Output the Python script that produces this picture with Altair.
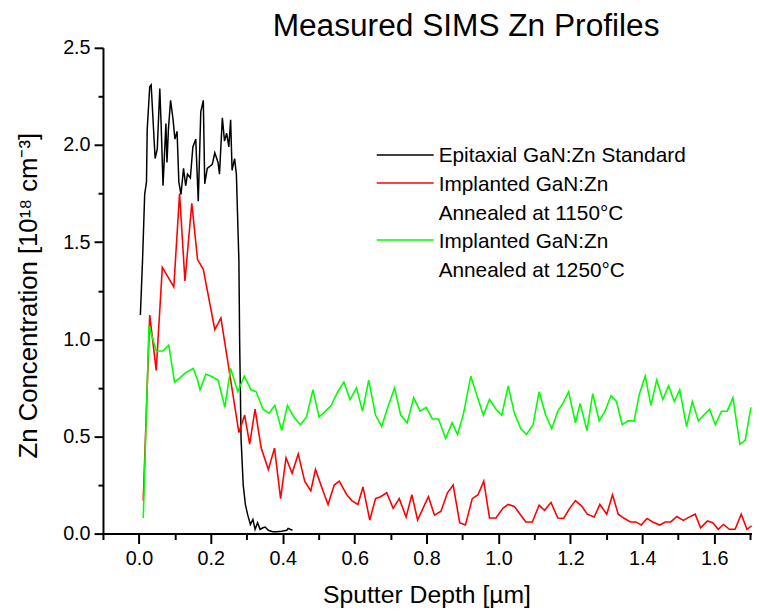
import altair as alt
import pandas as pd

# ---- data ----
black_x = [0.004, 0.010, 0.016, 0.021, 0.023, 0.030, 0.034, 0.045, 0.051, 0.058,
           0.062, 0.067, 0.075, 0.078, 0.082, 0.088, 0.095, 0.100, 0.106, 0.111,
           0.117, 0.124, 0.130, 0.135, 0.143, 0.150, 0.158, 0.165, 0.172, 0.179,
           0.183, 0.190, 0.204, 0.211, 0.220, 0.224, 0.232, 0.238, 0.244, 0.250,
           0.255, 0.259, 0.266, 0.271, 0.278, 0.280, 0.284, 0.290, 0.296, 0.302,
           0.310, 0.317, 0.323, 0.330, 0.337, 0.345, 0.351, 0.360, 0.372, 0.383,
           0.397, 0.411, 0.415, 0.427]
black_y = [1.125, 1.405, 1.746, 1.81, 2.08, 2.30, 2.31, 1.93, 1.98, 2.29,
           2.09, 1.79, 2.11, 1.91, 2.08, 2.23, 2.13, 2.03, 2.07, 1.81,
           1.745, 1.88, 1.79, 1.85, 1.83, 1.99, 2.03, 1.71, 2.17, 2.23,
           1.80, 1.88, 1.90, 1.96, 1.91, 1.85, 2.14, 2.02, 2.06, 1.99,
           2.13, 1.87, 1.93, 1.85, 1.405, 1.00, 0.49, 0.25, 0.15, 0.10,
           0.047, 0.073, 0.022, 0.056, 0.022, 0.03, 0.034, 0.017, 0.010, 0.010,
           0.012, 0.017, 0.027, 0.017]

red_x = [0.012, 0.030, 0.048, 0.065, 0.097, 0.113, 0.128, 0.147, 0.163, 0.179,
         0.211, 0.228, 0.278, 0.294, 0.308, 0.323, 0.340, 0.360, 0.377, 0.394,
         0.409, 0.426, 0.443, 0.461, 0.478, 0.491, 0.510, 0.526, 0.543, 0.557,
         0.578, 0.592, 0.609, 0.623, 0.642, 0.658, 0.672, 0.689, 0.707, 0.724,
         0.743, 0.759, 0.775, 0.805, 0.822, 0.840, 0.858, 0.874, 0.892, 0.908,
         0.927, 0.943, 0.959, 0.975, 0.993, 1.012, 1.027, 1.044, 1.060, 1.076,
         1.094, 1.113, 1.128, 1.146, 1.165, 1.181, 1.198, 1.214, 1.232, 1.247,
         1.266, 1.282, 1.301, 1.317, 1.333, 1.348, 1.367, 1.382, 1.397, 1.413,
         1.429, 1.448, 1.464, 1.479, 1.496, 1.514, 1.530, 1.547, 1.562, 1.581,
         1.596, 1.611, 1.626, 1.642, 1.658, 1.675, 1.691, 1.704]
red_y = [0.17, 1.125, 0.84, 1.37, 1.27, 1.75, 1.30, 1.70, 1.41, 1.36,
         1.05, 1.11, 0.52, 0.61, 0.46, 0.64, 0.44, 0.33, 0.44, 0.18,
         0.39, 0.31, 0.41, 0.27, 0.22, 0.33, 0.23, 0.15, 0.25, 0.27,
         0.20, 0.17, 0.15, 0.24, 0.07, 0.18, 0.19, 0.21, 0.13, 0.18,
         0.085, 0.20, 0.07, 0.19, 0.095, 0.115, 0.21, 0.25, 0.056, 0.044,
         0.18, 0.20, 0.27, 0.08, 0.08, 0.13, 0.15, 0.14, 0.10, 0.06,
         0.06, 0.146, 0.12, 0.16, 0.08, 0.078, 0.13, 0.17, 0.14, 0.10,
         0.085, 0.15, 0.10, 0.20, 0.10, 0.08, 0.06, 0.06, 0.044, 0.078,
         0.06, 0.044, 0.06, 0.06, 0.088, 0.068, 0.085, 0.10, 0.03, 0.065,
         0.056, 0.022, 0.047, 0.022, 0.022, 0.10, 0.022, 0.04]

green_x = [0.012, 0.028, 0.048, 0.067, 0.083, 0.099, 0.113, 0.131, 0.151, 0.163,
           0.170, 0.186, 0.201, 0.220, 0.239, 0.255, 0.275, 0.293, 0.312, 0.326,
           0.345, 0.362, 0.378, 0.397, 0.413, 0.431, 0.449, 0.466, 0.484, 0.501,
           0.519, 0.535, 0.553, 0.570, 0.587, 0.605, 0.622, 0.639, 0.658, 0.675,
           0.692, 0.711, 0.728, 0.746, 0.764, 0.782, 0.799, 0.816, 0.833, 0.853,
           0.871, 0.886, 0.903, 0.923, 0.940, 0.958, 0.975, 0.993, 1.009, 1.027,
           1.044, 1.062, 1.078, 1.096, 1.113, 1.131, 1.148, 1.165, 1.179, 1.195,
           1.214, 1.227, 1.246, 1.262, 1.280, 1.296, 1.313, 1.328, 1.344, 1.360,
           1.377, 1.392, 1.408, 1.424, 1.440, 1.457, 1.473, 1.489, 1.504, 1.523,
           1.539, 1.556, 1.571, 1.587, 1.603, 1.620, 1.636, 1.652, 1.671, 1.686,
           1.702]
green_y = [0.08, 1.07, 0.94, 0.94, 0.97, 0.78, 0.80, 0.83, 0.85, 0.79,
           0.74, 0.82, 0.81, 0.79, 0.65, 0.85, 0.73, 0.81, 0.74, 0.73,
           0.64, 0.62, 0.66, 0.53, 0.66, 0.60, 0.56, 0.60, 0.74, 0.60,
           0.63, 0.66, 0.73, 0.78, 0.69, 0.75, 0.63, 0.79, 0.61, 0.55,
           0.65, 0.75, 0.61, 0.57, 0.70, 0.63, 0.65, 0.59, 0.59, 0.49,
           0.57, 0.51, 0.62, 0.81, 0.71, 0.61, 0.69, 0.64, 0.61, 0.76,
           0.62, 0.54, 0.51, 0.56, 0.73, 0.61, 0.54, 0.63, 0.67, 0.73,
           0.57, 0.67, 0.53, 0.72, 0.58, 0.63, 0.71, 0.68, 0.56, 0.58,
           0.58, 0.72, 0.81, 0.66, 0.79, 0.69, 0.76, 0.68, 0.74, 0.55,
           0.68, 0.58, 0.61, 0.64, 0.56, 0.63, 0.63, 0.70, 0.46, 0.48,
           0.65]

x_major = [0.0, 0.2, 0.4, 0.6, 0.8, 1.0, 1.2, 1.4, 1.6]
x_minor = [-0.1, 0.1, 0.3, 0.5, 0.7, 0.9, 1.1, 1.3, 1.5, 1.7]
y_major = [0.0, 0.5, 1.0, 1.5, 2.0, 2.5]
y_minor = [0.25, 0.75, 1.25, 1.75, 2.25]

title_text = "Measured SIMS Zn Profiles"
legend_lines = ["Epitaxial GaN:Zn Standard", "Implanted GaN:Zn", "Annealed at 1150°C",
                "Implanted GaN:Zn", "Annealed at 1250°C"]
colors = ["#000000", "#ff0000", "#00ff00"]

FONT = "Liberation Sans"
xs = alt.Scale(domain=[-0.1, 1.705], nice=False, zero=False)
ys = alt.Scale(domain=[0, 2.5], nice=False, zero=False)

def frame(xv, yv):
    return pd.DataFrame({"depth": xv, "conc": yv})

major_x_axis = alt.Axis(values=x_major, format=".1f", orient="bottom", grid=False,
                        tickSize=10, tickWidth=2, tickColor="black",
                        domainColor="black", domainWidth=2,
                        labelFont=FONT, labelFontSize=20, labelColor="black", labelPadding=5,
                        title="Sputter Depth [µm]", titleFont=FONT, titleFontSize=25,
                        titleFontWeight="normal", titleColor="black",
                        titleX=327, titleY=70, titleBaseline="alphabetic")
major_y_axis = alt.Axis(values=y_major, format=".1f", orient="left", grid=False,
                        tickSize=9, tickWidth=2, tickColor="black",
                        domainColor="black", domainWidth=2,
                        labelFont=FONT, labelFontSize=20, labelColor="black", labelPadding=4,
                        title="Zn Concentration [10¹⁸ cm⁻³]", titleFont=FONT, titleFontSize=26,
                        titleFontWeight="normal", titleColor="black",
                        titleX=-67, titleY=250, titleBaseline="alphabetic", titleAngle=270)

black = alt.Chart(frame(black_x, black_y)).mark_line(color=colors[0], strokeWidth=1.5, clip=True).encode(
    x=alt.X("depth:Q", scale=xs, axis=major_x_axis),
    y=alt.Y("conc:Q", scale=ys, axis=major_y_axis),
)
red = alt.Chart(frame(red_x, red_y)).mark_line(color=colors[1], strokeWidth=1.6, clip=True).encode(
    x=alt.X("depth:Q", scale=xs, axis=None),
    y=alt.Y("conc:Q", scale=ys, axis=None),
)
green = alt.Chart(frame(green_x, green_y)).mark_line(color=colors[2], strokeWidth=1.6, clip=True).encode(
    x=alt.X("depth:Q", scale=xs, axis=None),
    y=alt.Y("conc:Q", scale=ys, axis=None),
)
minor = alt.Chart(frame(black_x, black_y)).mark_point(opacity=0).encode(
    x=alt.X("depth:Q", scale=xs,
            axis=alt.Axis(values=x_minor, orient="bottom", labels=False, domain=False, grid=False,
                          tickSize=6, tickWidth=2, tickColor="black", title=None)),
    y=alt.Y("conc:Q", scale=ys,
            axis=alt.Axis(values=y_minor, orient="left", labels=False, domain=False, grid=False,
                          tickSize=5, tickWidth=2, tickColor="black", title=None)),
)

one = pd.DataFrame({"k": [0]})
leg_rules = [
    alt.Chart(one).mark_rule(color=c, strokeWidth=1.5).encode(
        x=alt.value(276.7), x2=alt.value(334.3), y=alt.value(yy))
    for c, yy in zip(colors, [108.3, 136.7, 194.3])
]
leg_text = alt.Chart(one).mark_text(text=legend_lines, align="left", baseline="alphabetic",
                                    font=FONT, fontSize=21, lineHeight=29, color="black").encode(
    x=alt.value(339.3), y=alt.value(115.7))
title_mark = alt.Chart(one).mark_text(text=title_text, align="center", baseline="alphabetic",
                                      font=FONT, fontSize=32, color="black").encode(
    x=alt.value(367), y=alt.value(-12))

chart = alt.layer(black, red, green, minor, *leg_rules, leg_text, title_mark).resolve_axis(
    x="independent", y="independent"
).properties(
    width=656, height=491,
    autosize=alt.AutoSizeParams(type="none"),
    padding={"left": 96, "top": 37, "right": 0, "bottom": 76},
    background="white",
).configure_view(stroke=None)

chart.save("out.html", embed_options={"renderer": "svg", "actions": False})
